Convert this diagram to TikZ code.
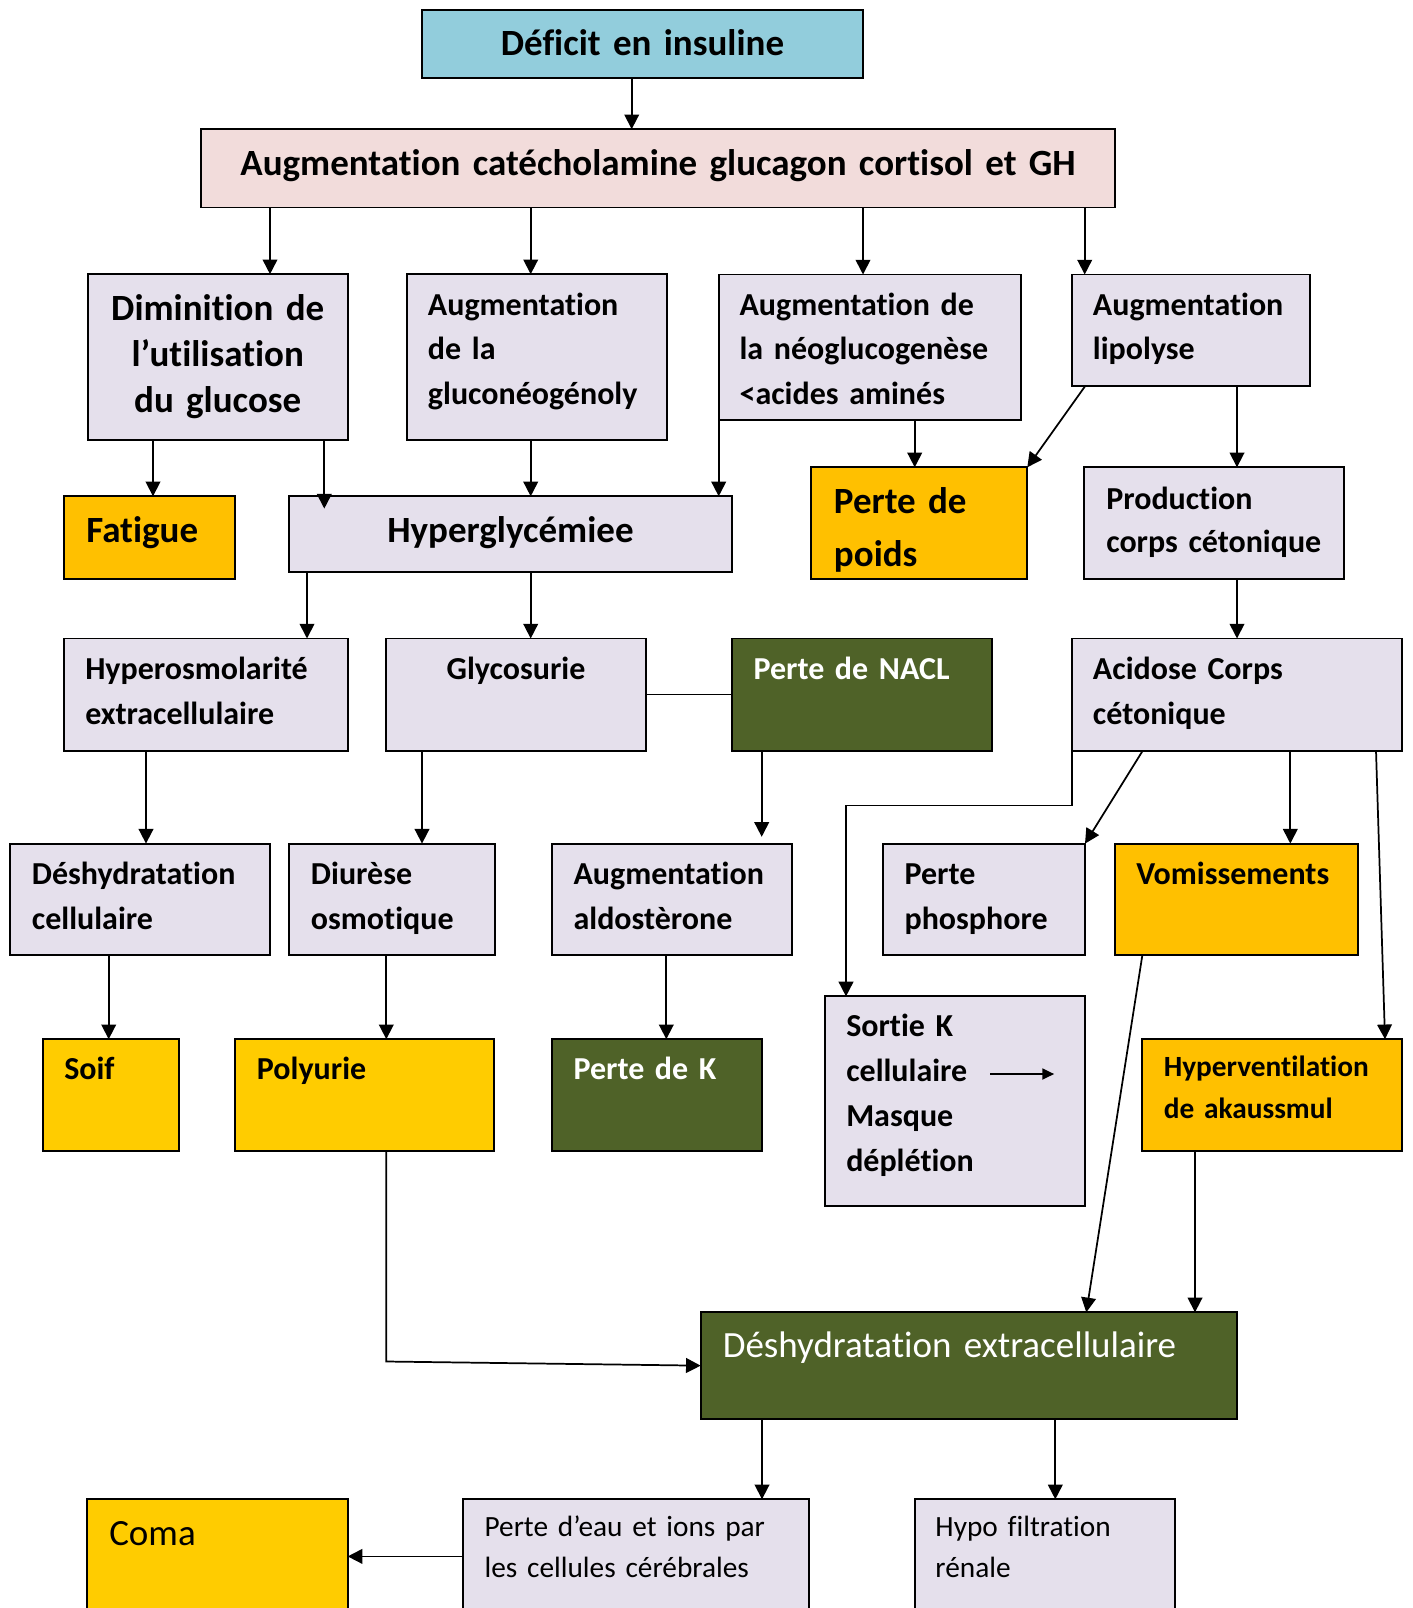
\documentclass[tikz,border=0pt]{standalone}
\usepackage{fontspec}
\setmainfont{Carlito}[Ligatures=NoCommon]
\usetikzlibrary{arrows.meta}

\definecolor{cBlue}{HTML}{92CDDC}
\definecolor{cPink}{HTML}{F2DCDB}
\definecolor{cLav}{HTML}{E5E0EC}
\definecolor{cOrange}{HTML}{FFC000}
\definecolor{cYellow}{HTML}{FFCC00}
\definecolor{cGreen}{HTML}{4F6228}

% slightly tighter word spacing
\newcommand\tightws{\spaceskip=0.8\fontdimen2\font\relax}
% box from its top-left (x1,y1) to bottom-right (x2,y2), units in px
\newcommand\bx[6]{\node[box,#6,minimum width={(#4-#2)*0.75pt},minimum height={(#5-#3)*0.75pt}] (#1) at (#2,#3) {};}

\begin{document}
\begin{tikzpicture}[x=0.75pt,y=-0.75pt,
  box/.style={draw=black,line width=1.4pt,anchor=north west,inner sep=0pt,outer sep=0pt,rectangle},
  lav/.style={fill=cLav}, org/.style={fill=cOrange}, yel/.style={fill=cYellow}, grn/.style={fill=cGreen},
  lt/.style={anchor=base west,text width=24cm,align=left,inner sep=0pt},
  ct/.style={anchor=base,text width=24cm,align=center,inner sep=0pt},
  fA/.style={font=\bfseries\fontsize{27.75}{34.5}\selectfont\tightws},
  fB/.style={font=\bfseries\fontsize{24}{33.4}\selectfont\tightws},
  fC/.style={font=\bfseries\fontsize{22}{31.5}\selectfont\tightws},
  rA/.style={font=\fontsize{27.75}{34}\selectfont\tightws},
  rC/.style={font=\fontsize{22}{30.75}\selectfont\tightws},
  wt/.style={text=white},
  arr/.style={line width=1.3pt,-{Triangle[width=11pt,length=11pt]}},
  ln/.style={line width=1.3pt}]
\clip (0,0) rectangle (1412,1608);

% ---------- boxes ----------
\bx{def}{421.7}{9.6}{863.3}{77.6}{fill=cBlue}
\bx{aug}{201}{129.2}{1115}{207.5}{fill=cPink}
\bx{dimi}{87.7}{274.2}{347.7}{439.9}{lav}
\bx{glcn}{406.7}{274.2}{666.7}{439.9}{lav}
\bx{neo}{718.7}{274.5}{1021.3}{419.8}{lav}
\bx{lipo}{1071.7}{274.5}{1310.3}{386.3}{lav}
\bx{fat}{63.7}{496.3}{235.3}{579.4}{org}
\bx{hyp}{289.3}{496.3}{731.7}{571.6}{lav}
\bx{poids}{811.3}{467.3}{1027.3}{579.4}{org}
\bx{prod}{1084.3}{467.3}{1344.3}{579.4}{lav}
\bx{osm}{63.7}{638.5}{347.7}{750.7}{lav}
\bx{glyc}{386.3}{638.5}{646}{750.7}{lav}
\bx{nacl}{731.7}{638.5}{991.7}{750.7}{grn}
\bx{acid}{1071.7}{638.5}{1402.3}{750.7}{lav}
\bx{dcell}{10}{843.6}{270}{955.4}{lav}
\bx{diur}{289.3}{843.6}{495}{955.4}{lav}
\bx{aldo}{552}{843.6}{792}{955.4}{lav}
\bx{phos}{883}{843.6}{1085}{955.4}{lav}
\bx{vom}{1114.7}{843.6}{1358}{955.4}{org}
\bx{sortie}{824.7}{996.4}{1085}{1206.3}{lav}
\bx{soif}{42.7}{1039.2}{179.3}{1151}{yel}
\bx{poly}{234.7}{1039.2}{494.3}{1151}{yel}
\bx{pk}{552}{1039.2}{762.3}{1151}{grn}
\bx{hyperv}{1142.3}{1039.2}{1402.3}{1151}{org}
\bx{dext}{700.7}{1312.3}{1237.3}{1419}{grn}
\bx{coma}{87.3}{1498.6}{347.7}{1640}{yel}
\bx{eau}{463.3}{1499.3}{808.7}{1640}{lav}
\bx{hypo}{914.7}{1499.3}{1174.7}{1640}{lav}

% ---------- texts ----------
\node[ct,fA] (t-def) at (642.5,55.7) {Déficit en insuline};
\node[ct,fA] (t-aug) at (658,176) {Augmentation catécholamine glucagon cortisol et GH};
\node[ct,fA] (t-dimi) at (217.7,320.6) {Diminition de\\l’utilisation\\du glucose};
\node[lt,fB] (t-glcn) at (427.7,315.2) {Augmentation\\de la\\gluconéogénoly};
\node[lt,fB] (t-neo) at (739.3,315.2) {Augmentation de\\la néoglucogenèse\\<acides aminés};
\node[lt,fB] (t-lipo) at (1092.7,315.2) {Augmentation\\lipolyse};
\node[lt,fA] (t-fat) at (86,542) {Fatigue};
\node[ct,fA] (t-hyp) at (510.5,542) {Hyperglycémiee};
\node[lt,font=\bfseries\fontsize{27.75}{39.2}\selectfont\tightws] (t-poids) at (833.7,513.8) {Perte de\\poids};
\node[lt,font=\bfseries\fontsize{24}{32.3}\selectfont\tightws] (t-prod) at (1106,509.3) {Production\\corps cétonique};
\node[lt,fB] (t-osm) at (85,679.6) {Hyperosmolarité\\extracellulaire};
\node[ct,fB] (t-glyc) at (516,679.6) {Glycosurie};
\node[lt,fB,wt] (t-nacl) at (753.3,679.6) {Perte de NACL};
\node[lt,fB] (t-acid) at (1092.7,679.6) {Acidose Corps\\cétonique};
\node[lt,fB] (t-dcell) at (31.7,884.7) {Déshydratation\\cellulaire};
\node[lt,fB] (t-diur) at (310.7,884.7) {Diurèse\\osmotique};
\node[lt,fB] (t-aldo) at (573.3,884.7) {Augmentation\\aldostèrone};
\node[lt,fB] (t-phos) at (904.3,884.7) {Perte\\phosphore};
\node[lt,fB] (t-vom) at (1136,884.7) {Vomissements};
\node[lt,font=\bfseries\fontsize{24}{33.75}\selectfont\tightws] (t-sortie) at (846,1036.1) {Sortie K\\cellulaire\\Masque\\déplétion};
\node[lt,fB] (t-soif) at (64,1079.5) {Soif};
\node[lt,fB] (t-poly) at (256.7,1079.5) {Polyurie};
\node[lt,fB,wt] (t-pk) at (573.3,1079.5) {Perte de K};
\node[lt,fC] (t-hyperv) at (1163.5,1076) {Hyperventilation\\de akaussmul};
\node[lt,rA,wt] (t-dext) at (722.5,1357.4) {Déshydratation extracellulaire};
\node[lt,rA] (t-coma) at (109,1545.4) {Coma};
\node[lt,rC] (t-eau) at (484.3,1536.9) {Perte d’eau et ions par\\les cellules cérébrales};
\node[lt,rC] (t-hypo) at (935.2,1536.9) {Hypo filtration\\rénale};

% arrow drawn inside the "Sortie K" box
\coordinate (kA) at (990.3,1074);
\coordinate (kB) at (1054.3,1074);
\draw[line width=2pt,-{Triangle[width=8pt,length=9pt]}] (kA) -- (kB);

% ---------- connectors ----------
\draw[arr] (631.7,0 |- def.south) -- (631.7,0 |- aug.north);
\draw[arr] (270,0 |- aug.south) -- (270,0 |- dimi.north);
\draw[arr] (530.7,0 |- aug.south) -- (530.7,0 |- glcn.north);
\draw[arr] (863,0 |- aug.south) -- (863,0 |- neo.north);
\draw[arr] (1084.7,0 |- aug.south) -- (1084.7,0 |- lipo.north);

\draw[arr] (153,0 |- dimi.south) -- (153,0 |- fat.north);
\coordinate (dimiHyp) at (324.3,508.6);
\draw[arr] (324.3,0 |- dimi.south) -- (dimiHyp);
\draw[arr] (530.7,0 |- glcn.south) -- (530.7,0 |- hyp.north);
\draw[arr] ([yshift=3pt]neo.south west) -- (neo.south west |- hyp.north);
\draw[arr] (914.7,0 |- neo.south) -- (914.7,0 |- poids.north);
\draw[arr] (1085,0 |- lipo.south) -- (poids.north east);
\draw[arr] (1237,0 |- lipo.south) -- (1237,0 |- prod.north);

\draw[arr] (307,0 |- hyp.south) -- (307,0 |- osm.north);
\draw[arr] (530.7,0 |- hyp.south) -- (530.7,0 |- glyc.north);
\draw[arr] (1237,0 |- prod.south) -- (1237,0 |- acid.north);

\draw[ln] (glyc.east) -- (nacl.west);
\coordinate (naclTip) at (761.7,836.8);
\draw[arr] (761.7,0 |- nacl.south) -- (naclTip);

\draw[arr] (146,0 |- osm.south) -- (146,0 |- dcell.north);
\draw[arr] (422,0 |- glyc.south) -- (422,0 |- diur.north);

\draw[arr] (acid.south west) -- (acid.south west |- 0,805.4) -- (846,805.4) -- (846,0 |- sortie.north);
\draw[arr] (1142.7,0 |- acid.south) -- (phos.north east);
\draw[arr] (1290.3,0 |- acid.south) -- (1290.3,0 |- vom.north);
\draw[arr] (1376,0 |- acid.south) -- (1385,0 |- hyperv.north);

\draw[arr] (108.7,0 |- dcell.south) -- (108.7,0 |- soif.north);
\draw[arr] (386.3,0 |- diur.south) -- (386.3,0 |- poly.north);
\draw[arr] (666.3,0 |- aldo.south) -- (666.3,0 |- pk.north);

\draw[arr] (1142.3,0 |- vom.south) -- (1086.3,0 |- dext.north);
\draw[arr] (1195,0 |- hyperv.south) -- (1195,0 |- dext.north);
\draw[arr] (386.3,0 |- poly.south) -- (386.3,1361.5) -- (dext.west);

\draw[arr] (762,0 |- dext.south) -- (762,0 |- eau.north);
\draw[arr] (1055.3,0 |- dext.south) -- (1055.3,0 |- hypo.north);
\draw[arr] (eau.west |- 0,1556.4) -- (coma.east |- 0,1556.4);
\end{tikzpicture}
\end{document}
